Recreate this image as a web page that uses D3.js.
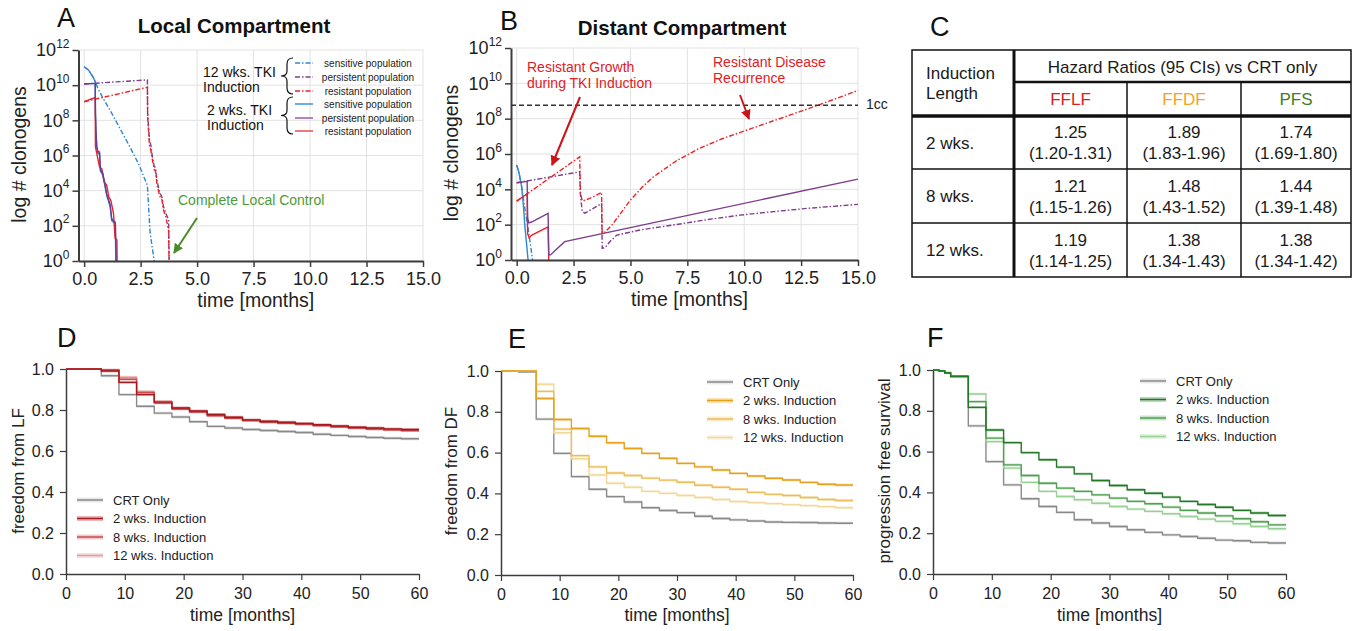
<!DOCTYPE html>
<meta charset="utf-8">
<style>
  body { margin: 0; background: #fff; }
  svg { display: block; font-family: "Liberation Sans", Arial, Helvetica, sans-serif; }
  .axis path, .axis line { stroke: #3d3d3d; }
  .axis text { fill: #222; font-family: "Liberation Sans", Arial, sans-serif; }
</style>
<svg width="1355" height="631"></svg>
<script src="https://cdn.jsdelivr.net/npm/d3@7"></script>
<script>

// ---- A / B : clonogens, points are [months, log10(count)] ----
var monthTicks = [0, 2.5, 5, 7.5, 10, 12.5, 15];
var expTicks = [0, 2, 4, 6, 8, 10, 12];

var localSens12 = [[0,11.05],[0.2,10.85],[0.4,10.45],[0.6,9.85],[0.8,9.35],[1.2,8.45],[1.6,7.5],[2.0,6.55],[2.4,5.55],[2.8,4.3],[2.83,3.6],[2.92,1.6],[3.0,0.9],[3.1,0]];
var localPers12 = [[0,10.07],[2.8,10.3],[2.81,8.4],[2.89,6.9],[2.95,6.6],[3.0,6.1],[3.1,5.4],[3.16,5.3],[3.22,4.6],[3.34,3.9],[3.44,3.66],[3.51,3.1],[3.62,2.7],[3.74,2.33],[3.76,0]];
var localRes12 = [[0,9.06],[2.8,9.88],[2.81,8.2],[2.89,6.6],[2.95,6.3],[3.0,5.9],[3.1,5.2],[3.16,5.1],[3.22,4.4],[3.34,3.7],[3.44,3.5],[3.51,2.9],[3.62,2.5],[3.74,1.7],[3.76,0]];
var localSens2 = [[0,11.05],[0.2,10.85],[0.4,10.45],[0.49,10.2],[0.5,8.4],[0.52,7.4],[0.56,6.4],[0.62,6.1],[0.68,6.1],[0.72,5.1],[0.82,4.9],[0.9,4.4],[1.0,3.7],[1.08,3.4],[1.15,3.1],[1.22,2.3],[1.38,2.1],[1.4,0]];
var localPers2 = [[0,10.07],[0.49,10.1],[0.5,8.5],[0.52,7.5],[0.56,6.5],[0.62,6.2],[0.68,6.2],[0.72,5.2],[0.82,5.0],[0.9,4.5],[1.0,3.8],[1.08,3.5],[1.15,3.2],[1.22,2.4],[1.38,2.2],[1.42,0]];
var localRes2 = [[0,9.06],[0.49,9.3],[0.5,6.5],[0.56,6.1],[0.68,5.35],[0.78,5.25],[0.89,4.5],[1.0,4.3],[1.09,3.65],[1.18,3.45],[1.3,2.7],[1.37,1.3],[1.45,1.2],[1.46,0]];

var distSens12 = [[0,5.37],[0.1,4.95],[0.22,4.1],[0.35,3.0],[0.5,1.8],[0.6,0.9],[0.7,0]];
var distPers12 = [[0,4.37],[2.77,4.99],[2.8,3.7],[2.88,2.75],[3.0,2.65],[3.4,2.95],[3.73,3.2],[3.76,0.66],[3.9,0.72],[4.1,1.05],[4.4,1.41],[5.5,1.72],[6.88,1.98],[8.35,2.28],[9.82,2.54],[11.3,2.74],[12.75,2.92],[15,3.15]];
var distRes12 = [[0,3.33],[2.77,5.84],[2.8,3.8],[2.88,3.35],[3.0,3.38],[3.4,3.6],[3.73,3.82],[3.76,1.5],[3.9,1.6],[4.2,2.0],[4.6,2.7],[5.0,3.4],[5.5,4.1],[6.0,4.7],[7.0,5.6],[8.0,6.3],[9.0,6.85],[10,7.3],[11,7.75],[12,8.2],[13,8.65],[14,9.12],[15,9.6]];
var distSens2 = [[0,5.37],[0.1,4.95],[0.22,4.15],[0.3,3.0],[0.36,1.9],[0.45,0.7],[0.5,0]];
var distPers2 = [[0,4.37],[0.46,4.45],[0.48,2.4],[0.53,2.1],[0.65,2.15],[1.38,2.64],[1.41,0.28],[1.5,0.3],[1.7,0.55],[2.11,1.04],[15,4.58]];
var distRes2 = [[0,3.33],[0.46,3.75],[0.48,1.5],[0.55,1.25],[0.65,1.4],[1.38,1.88],[1.41,0]];
var oneCcExp = 8.76;

var popLabels = ["sensitive population", "persistent population", "resistant population"];

// ---- C : hazard ratios ----
var inductionLengths = ["2 wks.", "8 wks.", "12 wks."];
var endpoints = ["FFLF", "FFDF", "PFS"];
var hrValue = [[1.25, 1.89, 1.74], [1.21, 1.48, 1.44], [1.19, 1.38, 1.38]];
var hrLow = [[1.20, 1.83, 1.69], [1.15, 1.43, 1.39], [1.14, 1.34, 1.34]];
var hrHigh = [[1.31, 1.96, 1.80], [1.26, 1.52, 1.48], [1.25, 1.43, 1.42]];

// ---- D / E / F : Kaplan-Meier style curves ----
var kmLegend = ["CRT Only", "2 wks. Induction", "8 wks. Induction", "12 wks. Induction"];
var kmTimes = [0,3,6,9,12,15,18,21,24,27,30,33,36,39,42,45,48,51,54,57,60];
var pfsTimes = [0,1,2,3,6,9,12,15,18,21,24,27,30,33,36,39,42,45,48,51,54,57,60];

var lfCrt = [1,1,0.967,0.875,0.818,0.785,0.766,0.743,0.72,0.712,0.705,0.70,0.695,0.69,0.682,0.676,0.671,0.666,0.662,0.66,0.66];
var lf2 = [1,1,0.99,0.935,0.875,0.835,0.81,0.795,0.778,0.765,0.752,0.745,0.74,0.735,0.728,0.722,0.716,0.712,0.708,0.705,0.705];
var lf8 = [1,1,0.995,0.95,0.885,0.84,0.805,0.79,0.772,0.76,0.748,0.74,0.735,0.73,0.724,0.718,0.712,0.707,0.703,0.70,0.70];
var lf12 = [1,1,0.998,0.96,0.89,0.842,0.81,0.792,0.775,0.762,0.75,0.742,0.737,0.731,0.725,0.719,0.713,0.708,0.704,0.70,0.70];

var dfCrt = [1,0.995,0.764,0.596,0.482,0.42,0.384,0.358,0.33,0.316,0.306,0.288,0.277,0.27,0.265,0.26,0.258,0.257,0.255,0.254,0.254];
var df2 = [1,1,0.865,0.762,0.718,0.68,0.648,0.62,0.596,0.572,0.547,0.53,0.515,0.498,0.485,0.474,0.466,0.454,0.445,0.441,0.441];
var df8 = [1,1,0.90,0.715,0.585,0.53,0.50,0.488,0.475,0.465,0.455,0.44,0.43,0.42,0.405,0.395,0.39,0.38,0.37,0.365,0.365];
var df12 = [1,1,0.935,0.697,0.57,0.49,0.45,0.43,0.41,0.40,0.39,0.38,0.37,0.36,0.355,0.35,0.345,0.34,0.335,0.33,0.33];

var pfsCrt = [1,0.995,0.985,0.968,0.726,0.551,0.437,0.369,0.331,0.302,0.266,0.25,0.233,0.217,0.204,0.192,0.184,0.175,0.166,0.163,0.155,0.152,0.152];
var pfs2 = [1,0.995,0.985,0.968,0.817,0.706,0.644,0.595,0.56,0.524,0.491,0.458,0.434,0.413,0.396,0.377,0.356,0.341,0.327,0.312,0.299,0.287,0.287];
var pfs8 = [1,0.995,0.985,0.968,0.845,0.666,0.535,0.483,0.445,0.421,0.405,0.388,0.372,0.356,0.344,0.328,0.312,0.299,0.285,0.271,0.256,0.241,0.241];
var pfs12 = [1,0.995,0.985,0.968,0.882,0.649,0.519,0.449,0.405,0.38,0.364,0.347,0.331,0.318,0.307,0.295,0.282,0.269,0.258,0.246,0.233,0.222,0.222];


var svg = d3.select("svg");
var defs = svg.append("defs");

var blue = "#2f86d3", purple = "#7d3c8c", red = "#ee2226";
var dashDot = "5,2,1.5,2";

function arrowMarker(id, color) {
    defs.append("marker")
        .attr("id", id)
        .attr("viewBox", "0 0 10 10")
        .attr("refX", 9).attr("refY", 5)
        .attr("markerWidth", 10).attr("markerHeight", 10)
        .attr("markerUnits", "userSpaceOnUse")
        .attr("orient", "auto")
      .append("path")
        .attr("d", "M0,0L10,5L0,10z")
        .attr("fill", color);
}
arrowMarker("arrRed", "#cc1418");
arrowMarker("arrGreen", "#4a8c2a");

function panelLetter(txt, x, y) {
    svg.append("text").attr("x", x).attr("y", y)
        .attr("font-size", 27).attr("fill", "#111").text(txt);
}

function logPanel(p) {
    var x = d3.scaleLinear().domain([-0.25, 15]).range([p.left, p.right]);
    var y = d3.scaleLog().domain([1, 1e12]).range([p.bottom, p.top]);
    var g = svg.append("g");

    g.append("g").selectAll("line").data(monthTicks).join("line")
        .attr("x1", function(d) { return x(d); }).attr("x2", function(d) { return x(d); })
        .attr("y1", p.top).attr("y2", p.bottom)
        .attr("stroke", "#e2e2e2");
    g.append("g").selectAll("line").data(expTicks).join("line")
        .attr("x1", p.left).attr("x2", p.right)
        .attr("y1", function(d) { return y(Math.pow(10, d)); })
        .attr("y2", function(d) { return y(Math.pow(10, d)); })
        .attr("stroke", "#e2e2e2");

    var line = d3.line()
        .x(function(d) { return x(d[0]); })
        .y(function(d) { return y(Math.pow(10, d[1])); });

    p.series.forEach(function(s) {
        g.append("path")
            .attr("d", line(s.pts))
            .attr("fill", "none")
            .attr("stroke", s.color)
            .attr("stroke-width", 1.4)
            .attr("stroke-dasharray", s.dash ? dashDot : null);
    });

    var xa = g.append("g").attr("class", "axis")
        .attr("transform", "translate(0," + p.bottom + ")")
        .call(d3.axisBottom(x).tickValues(monthTicks).tickFormat(d3.format(".1f"))
            .tickSize(6).tickSizeOuter(0).tickPadding(5));
    xa.select(".domain").attr("stroke-width", 2);
    xa.selectAll(".tick line").attr("stroke-width", 1.5);
    xa.selectAll("text").attr("font-size", 18);

    var ya = g.append("g").attr("class", "axis")
        .attr("transform", "translate(" + p.left + ",0)")
        .call(d3.axisLeft(y).tickValues(expTicks.map(function(e) { return Math.pow(10, e); }))
            .tickFormat(function() { return ""; })
            .tickSize(6).tickSizeOuter(0).tickPadding(3));
    ya.select(".domain").attr("stroke-width", 2);
    ya.selectAll(".tick line").attr("stroke-width", 1.5);
    ya.selectAll(".tick text").each(function(d) {
        var t = d3.select(this).attr("font-size", 18);
        t.append("tspan").text("10");
        t.append("tspan").attr("dy", "-0.72em").attr("font-size", 12)
            .text(Math.round(Math.log10(d)));
    });

    svg.append("text").attr("x", (p.left + p.right) / 2 + 5).attr("y", p.bottom + 46)
        .attr("text-anchor", "middle").attr("font-size", 19.5).attr("fill", "#222")
        .text("time [months]");
    svg.append("text")
        .attr("transform", "translate(" + p.ylabX + "," + ((p.top + p.bottom) / 2 - 1) + ") rotate(-90)")
        .attr("dy", "0.35em")
        .attr("text-anchor", "middle").attr("font-size", 19.5).attr("fill", "#222")
        .text("log # clonogens");
    svg.append("text").attr("x", p.titleX).attr("y", p.titleY)
        .attr("text-anchor", "middle").attr("font-size", 20.5).attr("font-weight", "bold")
        .attr("fill", "#111").text(p.title);

    return { x: x, y: y, g: g };
}

// ---------- panel A ----------
panelLetter("A", 57, 27);
var pa = logPanel({
    left: 78.5, right: 423, top: 50, bottom: 261, ylabX: 19,
    title: "Local Compartment", titleX: 234, titleY: 33,
    series: [
        { pts: localSens12, color: blue, dash: true },
        { pts: localPers12, color: purple, dash: true },
        { pts: localRes12, color: red, dash: true },
        { pts: localSens2, color: blue, dash: false },
        { pts: localRes2, color: red, dash: false },
        { pts: localPers2, color: "#6a3c94", dash: false }
    ]
});

// legend of panel A
function brace(x, y0, y1) {
    var ym = (y0 + y1) / 2;
    return "M" + (x + 6) + "," + y0 + " Q" + x + "," + y0 + " " + x + "," + (y0 + 6) +
        " L" + x + "," + (ym - 5) + " Q" + x + "," + ym + " " + (x - 6) + "," + ym +
        " Q" + x + "," + ym + " " + x + "," + (ym + 5) +
        " L" + x + "," + (y1 - 6) + " Q" + x + "," + y1 + " " + (x + 6) + "," + y1;
}
var legA = svg.append("g");
[{ lines: ["12 wks. TKI", "Induction"], x: 203, y: 77, y0: 58, y1: 94, dash: true, rows: [63, 77, 91] },
 { lines: ["2 wks. TKI", "Induction"], x: 207, y: 115, y0: 97, y1: 134, dash: false, rows: [104, 118, 131] }]
.forEach(function(grp) {
    grp.lines.forEach(function(l, i) {
        legA.append("text").attr("x", grp.x).attr("y", grp.y + i * 15)
            .attr("font-size", 14).attr("fill", "#111").text(l);
    });
    legA.append("path").attr("d", brace(287, grp.y0, grp.y1))
        .attr("fill", "none").attr("stroke", "#111").attr("stroke-width", 1.2);
    [blue, purple, red].forEach(function(c, i) {
        legA.append("line").attr("x1", 295).attr("x2", 313)
            .attr("y1", grp.rows[i]).attr("y2", grp.rows[i])
            .attr("stroke", grp.dash ? c : (i === 1 ? "#9b5ab0" : (i === 2 ? "#f04848" : "#3b90dc")))
            .attr("stroke-width", 1.5)
            .attr("stroke-dasharray", grp.dash ? dashDot : null);
        legA.append("text").attr("x", 368).attr("y", grp.rows[i] + 3.5)
            .attr("text-anchor", "middle").attr("font-size", 10).attr("fill", "#222")
            .text(popLabels[i]);
    });
});

svg.append("text").attr("x", 178).attr("y", 205).attr("font-size", 14)
    .attr("fill", "#4f9a35").text("Complete Local Control");
svg.append("line").attr("x1", 197).attr("y1", 218).attr("x2", 174).attr("y2", 253)
    .attr("stroke", "#4a8c2a").attr("stroke-width", 2).attr("marker-end", "url(#arrGreen)");

// ---------- panel B ----------
panelLetter("B", 500, 30);
var pb = logPanel({
    left: 511, right: 858, top: 48, bottom: 260, ylabX: 451,
    title: "Distant Compartment", titleX: 682, titleY: 35,
    series: [
        { pts: distSens12, color: blue, dash: true },
        { pts: distPers12, color: purple, dash: true },
        { pts: distRes12, color: red, dash: true },
        { pts: distSens2, color: blue, dash: false },
        { pts: distRes2, color: red, dash: false },
        { pts: distPers2, color: purple, dash: false }
    ]
});
pb.g.append("line")
    .attr("x1", pb.x(-0.25)).attr("x2", pb.x(15))
    .attr("y1", pb.y(Math.pow(10, oneCcExp))).attr("y2", pb.y(Math.pow(10, oneCcExp)))
    .attr("stroke", "#333").attr("stroke-width", 1.3).attr("stroke-dasharray", "5,3");
svg.append("text").attr("x", 866).attr("y", pb.y(Math.pow(10, oneCcExp)) + 4)
    .attr("font-size", 14).attr("fill", "#222").text("1cc");

[["Resistant Growth", 527, 72], ["during TKI Induction", 527, 87.5],
 ["Resistant Disease", 713, 67], ["Recurrence", 713, 83]].forEach(function(a) {
    svg.append("text").attr("x", a[1]).attr("y", a[2]).attr("font-size", 14)
        .attr("fill", "#e02026").text(a[0]);
});
svg.append("line").attr("x1", 580).attr("y1", 97).attr("x2", 552).attr("y2", 165)
    .attr("stroke", "#cc1418").attr("stroke-width", 2).attr("marker-end", "url(#arrRed)");
svg.append("line").attr("x1", 740).attr("y1", 95).attr("x2", 749).attr("y2", 119)
    .attr("stroke", "#cc1418").attr("stroke-width", 2).attr("marker-end", "url(#arrRed)");

// ---------- panel C : table ----------
panelLetter("C", 930, 36);
var colX = [912, 1014, 1127, 1241, 1351];
var rowY = [50, 82, 116, 169, 223, 277];
var epColor = ["#d81e22", "#f5a21f", "#3f7d25"];
var tb = svg.append("g").attr("fill", "#1a1a1a").attr("font-size", 17);

tb.append("rect").attr("x", colX[0]).attr("y", rowY[0])
    .attr("width", colX[4] - colX[0]).attr("height", rowY[5] - rowY[0])
    .attr("fill", "none").attr("stroke", "#111").attr("stroke-width", 1.5);
function tline(x1, y1, x2, y2, w) {
    tb.append("line").attr("x1", x1).attr("y1", y1).attr("x2", x2).attr("y2", y2)
        .attr("stroke", "#111").attr("stroke-width", w);
}
tline(colX[1], rowY[0], colX[1], rowY[5], 3);
tline(colX[2], rowY[1], colX[2], rowY[5], 1.5);
tline(colX[3], rowY[1], colX[3], rowY[5], 1.5);
tline(colX[1], rowY[1], colX[4], rowY[1], 2.5);
tline(colX[0], rowY[2], colX[4], rowY[2], 3.5);
tline(colX[0], rowY[3], colX[4], rowY[3], 1.5);
tline(colX[0], rowY[4], colX[4], rowY[4], 1.5);

tb.append("text").attr("x", 926).attr("y", 79).text("Induction");
tb.append("text").attr("x", 926).attr("y", 99).text("Length");
tb.append("text").attr("x", (colX[1] + colX[4]) / 2).attr("y", 72.5)
    .attr("text-anchor", "middle").text("Hazard Ratios (95 CIs) vs CRT only");
endpoints.forEach(function(e, j) {
    tb.append("text").attr("x", (colX[j + 1] + colX[j + 2]) / 2).attr("y", 105)
        .attr("text-anchor", "middle").attr("fill", epColor[j]).text(e);
});
var f2 = d3.format(".2f");
inductionLengths.forEach(function(r, i) {
    var cy = (rowY[i + 2] + rowY[i + 3]) / 2;
    tb.append("text").attr("x", 926).attr("y", cy + 6).text(r);
    endpoints.forEach(function(e, j) {
        var cx = (colX[j + 1] + colX[j + 2]) / 2;
        tb.append("text").attr("x", cx).attr("y", cy - 4.5)
            .attr("text-anchor", "middle").text(f2(hrValue[i][j]));
        tb.append("text").attr("x", cx).attr("y", cy + 16.5)
            .attr("text-anchor", "middle")
            .text("(" + f2(hrLow[i][j]) + "-" + f2(hrHigh[i][j]) + ")");
    });
});

// ---------- panels D, E, F ----------
function kmPanel(p) {
    var x = d3.scaleLinear().domain([0, 60]).range([p.left, p.right]);
    var y = d3.scaleLinear().domain([0, 1]).range([p.bottom, p.top]);
    var g = svg.append("g");
    var hw = 0.007;

    var line = d3.line().curve(d3.curveStepAfter)
        .x(function(d) { return x(d[0]); }).y(function(d) { return y(d[1]); });
    var band = d3.area().curve(d3.curveStepAfter)
        .x(function(d) { return x(d[0]); })
        .y0(function(d) { return y(d[1] - (d[0] < 5 ? 0 : hw)); })
        .y1(function(d) { return y(Math.min(1, d[1] + hw)); });

    // draw CRT first, then 12, 8, 2 wks so darker sits on top
    [0, 3, 2, 1].forEach(function(k) {
        var pts = p.times.map(function(t, i) { return [t, p.series[k][i]]; });
        g.append("path").attr("d", band(pts))
            .attr("fill", p.colors[k]).attr("opacity", 0.3);
        g.append("path").attr("d", line(pts))
            .attr("fill", "none").attr("stroke", p.colors[k]).attr("stroke-width", 1.4);
    });

    var xa = g.append("g").attr("class", "axis")
        .attr("transform", "translate(0," + p.bottom + ")")
        .call(d3.axisBottom(x).tickValues([0, 10, 20, 30, 40, 50, 60])
            .tickSize(6).tickSizeOuter(0).tickPadding(8));
    xa.select(".domain").attr("stroke", "#555").attr("stroke-width", 1.5);
    xa.selectAll(".tick line").attr("stroke", "#555").attr("stroke-width", 1.2);
    xa.selectAll("text").attr("font-size", 16);
    var ya = g.append("g").attr("class", "axis")
        .attr("transform", "translate(" + p.left + ",0)")
        .call(d3.axisLeft(y).tickValues([0, 0.2, 0.4, 0.6, 0.8, 1.0]).tickFormat(d3.format(".1f"))
            .tickSize(6).tickSizeOuter(0).tickPadding(6));
    ya.select(".domain").attr("stroke", "#555").attr("stroke-width", 1.5);
    ya.selectAll(".tick line").attr("stroke", "#555").attr("stroke-width", 1.2);
    ya.selectAll("text").attr("font-size", 16);

    svg.append("text").attr("x", (p.left + p.right) / 2).attr("y", 621)
        .attr("text-anchor", "middle").attr("font-size", 17.5).attr("fill", "#222")
        .text("time [months]");
    svg.append("text")
        .attr("transform", "translate(" + p.ylabX + ",471) rotate(-90)")
        .attr("dy", "0.35em").attr("text-anchor", "middle")
        .attr("font-size", 17).attr("fill", "#222").text(p.ylabel);

    var lg = svg.append("g");
    kmLegend.forEach(function(name, k) {
        var ly = p.legY + k * 18.5;
        lg.append("rect").attr("x", p.legX).attr("y", ly - 2.5).attr("width", 26).attr("height", 5)
            .attr("fill", p.colors[k]).attr("opacity", k === 0 ? 0.2 : 0.3);
        lg.append("line").attr("x1", p.legX).attr("x2", p.legX + 26).attr("y1", ly).attr("y2", ly)
            .attr("stroke", p.colors[k]).attr("stroke-width", 1.5);
        lg.append("text").attr("x", p.legX + 36).attr("y", ly + 4.5)
            .attr("font-size", 13).attr("fill", "#222").text(name);
    });
}

panelLetter("D", 57, 347);
kmPanel({
    left: 66, right: 419, top: 369, bottom: 574, ylabX: 18,
    ylabel: "freedom from LF", times: kmTimes,
    series: [lfCrt, lf2, lf8, lf12],
    colors: ["#8a8a8a", "#a8171c", "#c44e52", "#e29a9a"],
    legX: 77, legY: 500
});

panelLetter("E", 508, 348);
kmPanel({
    left: 501, right: 853, top: 371, bottom: 575, ylabX: 451,
    ylabel: "freedom from DF", times: kmTimes,
    series: [dfCrt, df2, df8, df12],
    colors: ["#8a8a8a", "#e5a11a", "#ecbe57", "#f3d898"],
    legX: 707, legY: 382
});

panelLetter("F", 927, 347);
kmPanel({
    left: 933, right: 1286, top: 370, bottom: 574, ylabX: 884,
    ylabel: "progression free survival", times: pfsTimes,
    series: [pfsCrt, pfs2, pfs8, pfs12],
    colors: ["#8a8a8a", "#1f7a23", "#50a152", "#98d096"],
    legX: 1140, legY: 381
});

</script>
